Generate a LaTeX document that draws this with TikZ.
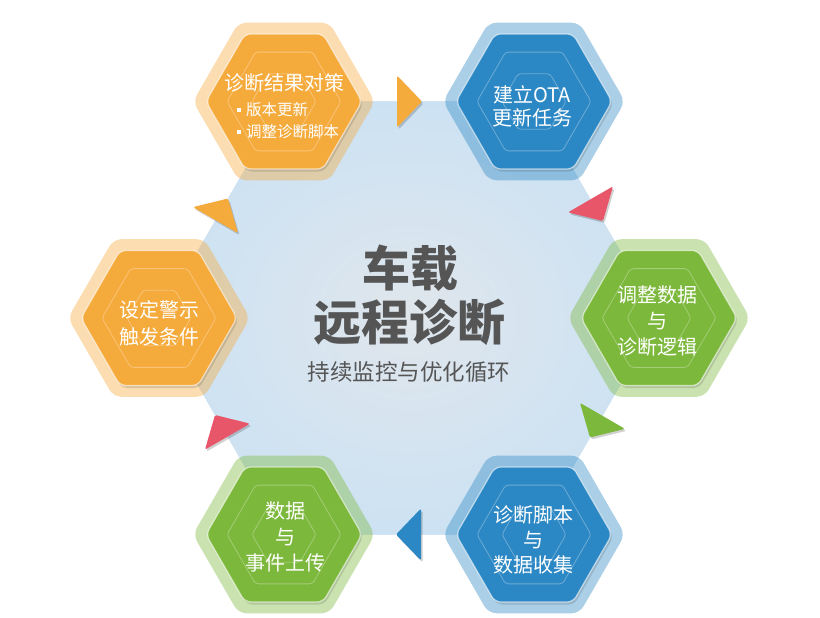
\documentclass[tikz,border=0pt]{standalone}
\usepackage{fontspec}
\newfontfamily\cjk{Noto Sans CJK SC}
\definecolor{orangeC}{HTML}{F5AA3C}
\definecolor{blueC}{HTML}{2C88C4}
\definecolor{greenC}{HTML}{7CB83B}
\definecolor{redC}{HTML}{E8566A}
\definecolor{cenOuter}{HTML}{CCE2F3}
\definecolor{cenInner}{HTML}{E0E6EC}
\definecolor{titleC}{HTML}{555555}
\newcommand\hexat[4]{% style, cx, cy, R
  \path[#1, shift={(#2,#3)}] (0:#4) -- (60:#4) -- (120:#4) -- (180:#4) -- (240:#4) -- (300:#4) -- cycle;}
\newcommand\cellhex[3]{% color, cx, cy
  \hexat{fill=#1, opacity=0.4, rounded corners=8pt}{#2}{#3}{91}
  \hexat{fill=black, opacity=0.12, rounded corners=6pt}{#2+1.5}{#3+2.5}{78}
  \hexat{fill=#1, draw=white, draw opacity=0.6, line width=1.2pt, rounded corners=6pt}{#2}{#3}{78}
  \hexat{draw=white, opacity=0.3, line width=0.8pt, rounded corners=3pt}{#2}{#3}{57}
  \hexat{draw=white, opacity=0.3, line width=0.8pt, rounded corners=3pt}{#2}{#3}{32}}
\newcommand\flowtri[4]{% cx, cy, angle, color
  \fill[black, opacity=0.18, rounded corners=1.5pt, shift={(#1+1.5,#2+2)}, rotate=#3] (-12,-26) -- (13,0) -- (-12,26) -- cycle;
  \fill[#4, rounded corners=1.5pt, shift={(#1,#2)}, rotate=#3] (-12,-26) -- (13,0) -- (-12,26) -- cycle;}
\begin{document}
\begin{tikzpicture}[x=1pt,y=-1pt,
  celltext/.style={text=white, font=\cjk\fontsize{20}{#1}\selectfont, align=center, inner sep=0pt},
  bullettext/.style={text=white, font=\cjk\fontsize{15.5}{22}\selectfont, align=left, inner sep=0pt, anchor=west},
  bigtitle/.style={text=titleC, font=\cjk\bfseries\fontsize{48}{54}\selectfont, inner sep=0pt},
  subtitle/.style={text=titleC, font=\cjk\fontsize{22.5}{26}\selectfont, inner sep=0pt}]
\useasboundingbox (0,0) rectangle (820,618);
\fill[white] (0,0) rectangle (820,618);
% central hexagon
\hexat{fill=cenOuter}{409}{318}{250}
\shade[shift={(409,318)}, inner color=cenInner, outer color=cenOuter]
  (0:250) -- (60:250) -- (120:250) -- (180:250) -- (240:250) -- (300:250) -- cycle;
% flow triangles
\flowtri{409}{101.5}{0}{orangeC}
\flowtri{596.5}{209.75}{-60}{redC}
\flowtri{596.5}{426.25}{-120}{greenC}
\flowtri{409}{534.5}{180}{blueC}
\flowtri{221.5}{426.25}{120}{redC}
\flowtri{221.5}{209.75}{60}{orangeC}
% cells
\cellhex{orangeC}{284}{101.5}
\cellhex{blueC}{534}{101.5}
\cellhex{greenC}{659}{318}
\cellhex{blueC}{534}{534.5}
\cellhex{greenC}{284}{534.5}
\cellhex{orangeC}{159}{318}
% texts
\node[celltext=24] (tlT) at (284,83) {诊断结果对策};
\node[bullettext] (tlB) at (236.5,121) {\raisebox{3.5pt}{\rule{4.5pt}{4.5pt}}\hspace{5pt}版本更新\\\raisebox{3.5pt}{\rule{4.5pt}{4.5pt}}\hspace{5pt}调整诊断脚本};
\node[celltext=23] (trT) at (532,106) {建立OTA\\更新任务};
\node[celltext=26] (rT) at (657,321) {调整数据\\与\\诊断逻辑};
\node[celltext=25] (brT) at (533,540) {诊断脚本\\与\\数据收集};
\node[celltext=26] (blT) at (285,537) {数据\\与\\事件上传};
\node[celltext=27] (lT) at (159,323) {设定警示\\触发条件};
\node[bigtitle] (cT1) at (410,268) {车载};
\node[bigtitle] (cT2) at (409,322) {远程诊断};
\node[subtitle] (cS) at (409,372) {持续监控与优化循环};
\end{tikzpicture}
\end{document}
